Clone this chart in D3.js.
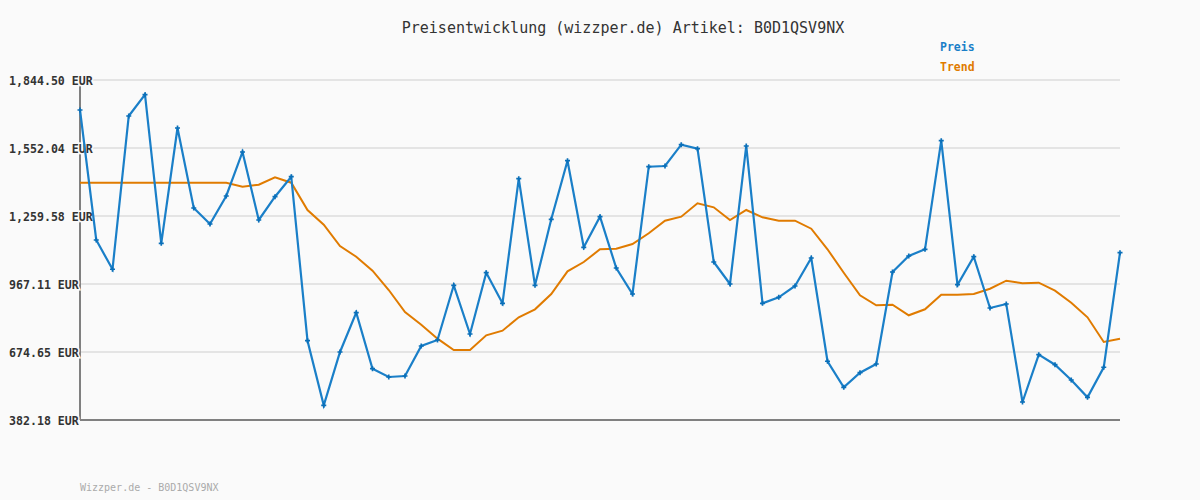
<!DOCTYPE html>
<html>
<head>
<meta charset="utf-8">
<script src="https://cdn.jsdelivr.net/npm/d3@7"></script>
<style>
  body { margin: 0; background: #fafafa; }
  svg { display: block; font-family: "DejaVu Sans Mono", "Liberation Mono", monospace; }
</style>
</head>
<body>
<div id="container"></div>
<script>
const width = 1200,
  height = 500,
  margin = { top: 80, bottom: 80, left: 80, right: 80 };

// price per day (EUR)
const preis = [
  1715.5, 1156.3, 1030.4, 1689.7, 1781.3, 1142.2, 1638.1, 1294.0, 1225.2, 1345.6,
  1534.9, 1242.4, 1342.6, 1428.6, 723.3, 445.4, 674.7, 843.7, 602.8, 567.1,
  571.4, 700.5, 726.3, 961.5, 752.1, 1015.7, 884.1, 1420.0, 961.5, 1245.4,
  1497.4, 1125.0, 1256.6, 1035.9, 924.1, 1471.6, 1474.6, 1566.2, 1549.0, 1061.7,
  967.1, 1560.7, 884.1, 909.9, 958.5, 1079.0, 634.7, 522.8, 585.6, 623.1,
  1018.7, 1087.6, 1116.4, 1583.5, 964.1, 1084.5, 863.9, 881.1, 459.6, 663.1,
  620.0, 554.2, 479.8, 608.9, 1101.7
];

const trend = [
  1402.8, 1402.8, 1402.8, 1402.8, 1402.8, 1402.8, 1402.8, 1402.8, 1402.8, 1402.8,
  1385.6, 1394.2, 1426.0, 1402.8, 1285.4, 1222.2, 1130.6, 1084.5, 1024.3, 941.3,
  846.7, 792.1, 731.9, 683.3, 683.3, 746.5, 766.3, 823.9, 858.3, 924.1,
  1021.7, 1061.7, 1116.4, 1119.0, 1139.2, 1185.2, 1239.4, 1256.6, 1314.2, 1297.0,
  1242.4, 1285.4, 1254.0, 1239.4, 1239.4, 1205.0, 1116.4, 1015.7, 918.5, 875.5,
  878.1, 832.5, 858.3, 921.1, 921.1, 924.1, 946.9, 981.3, 970.1, 972.7,
  938.3, 886.7, 823.9, 717.7, 731.9
];

const yTicks = [382.18, 674.65, 967.11, 1259.58, 1552.04, 1844.50];

const seriesNames = ["Preis", "Trend"];
const colors = ["#1a7fc8", "#e07b00"];

const svg = d3.select("#container")
  .append("svg")
  .attr("width", width)
  .attr("height", height);

svg.append("rect")
  .attr("width", width)
  .attr("height", height)
  .attr("fill", "#fafafa");

/* SCALES */
const xScale = d3.scaleLinear()
  .domain([0, preis.length - 1])
  .range([margin.left, width - margin.right]);

const yScale = d3.scaleLinear()
  .domain([yTicks[0], yTicks[yTicks.length - 1]])
  .range([height - margin.bottom, margin.top]);

// gridlines
svg.append("g")
  .selectAll("line")
  .data(yTicks)
  .join("line")
  .attr("x1", margin.left)
  .attr("x2", width - margin.right)
  .attr("y1", d => yScale(d))
  .attr("y2", d => yScale(d))
  .attr("stroke", "#e4e4e4")
  .attr("stroke-width", 2);

// axis lines
svg.append("line")
  .attr("x1", margin.left).attr("x2", margin.left)
  .attr("y1", margin.top).attr("y2", height - margin.bottom)
  .attr("stroke", "#808080").attr("stroke-width", 2);

svg.append("line")
  .attr("x1", margin.left).attr("x2", width - margin.right)
  .attr("y1", height - margin.bottom).attr("y2", height - margin.bottom)
  .attr("stroke", "#808080").attr("stroke-width", 2);

// y axis labels
const yAxis = d3.axisLeft(yScale)
  .tickValues(yTicks)
  .tickFormat(d => d3.format(",.2f")(d) + " EUR")
  .tickSize(0);

const gy = svg.append("g")
  .attr("transform", `translate(${margin.left}, 0)`)
  .call(yAxis);
gy.select(".domain").remove();
gy.selectAll("text")
  .attr("x", 9 - margin.left)
  .attr("text-anchor", "start")
  .attr("dy", "0.35em")
  .attr("font-family", "'DejaVu Sans Mono', monospace")
  .attr("font-size", 11.6)
  .attr("font-weight", "bold")
  .attr("fill", "#333")
  .attr("stroke", "#fafafa")
  .attr("stroke-width", 3)
  .attr("paint-order", "stroke");

/* LINES */
const line = d3.line()
  .x((d, i) => xScale(i))
  .y(d => yScale(d));

svg.append("path")
  .datum(trend)
  .attr("fill", "none")
  .attr("stroke", colors[1])
  .attr("stroke-width", 2)
  .attr("d", line);

svg.append("path")
  .datum(preis)
  .attr("fill", "none")
  .attr("stroke", colors[0])
  .attr("stroke-width", 2.2)
  .attr("d", line);

const marker = d3.symbol().type(d3.symbolCross).size(14);
svg.append("g")
  .selectAll("path")
  .data(preis)
  .join("path")
  .attr("transform", (d, i) => `translate(${xScale(i)}, ${yScale(d)})`)
  .attr("d", marker)
  .attr("fill", "#0a6fb8");

/* TITLE, LEGEND, FOOTER */
svg.append("text")
  .attr("x", 623)
  .attr("y", 33)
  .attr("text-anchor", "middle")
  .attr("font-size", 15)
  .attr("fill", "#333")
  .text("Preisentwicklung (wizzper.de) Artikel: B0D1QSV9NX");

svg.selectAll(".legend")
  .data(seriesNames)
  .join("text")
  .attr("class", "legend")
  .attr("x", 940)
  .attr("y", (d, i) => 51 + i * 20)
  .attr("font-size", 11.5)
  .attr("font-weight", "bold")
  .attr("fill", (d, i) => colors[i])
  .text(d => d);

svg.append("text")
  .attr("x", 80)
  .attr("y", 491)
  .attr("font-size", 10)
  .attr("fill", "#aaa")
  .text("Wizzper.de - B0D1QSV9NX");
</script>
</body>
</html>
